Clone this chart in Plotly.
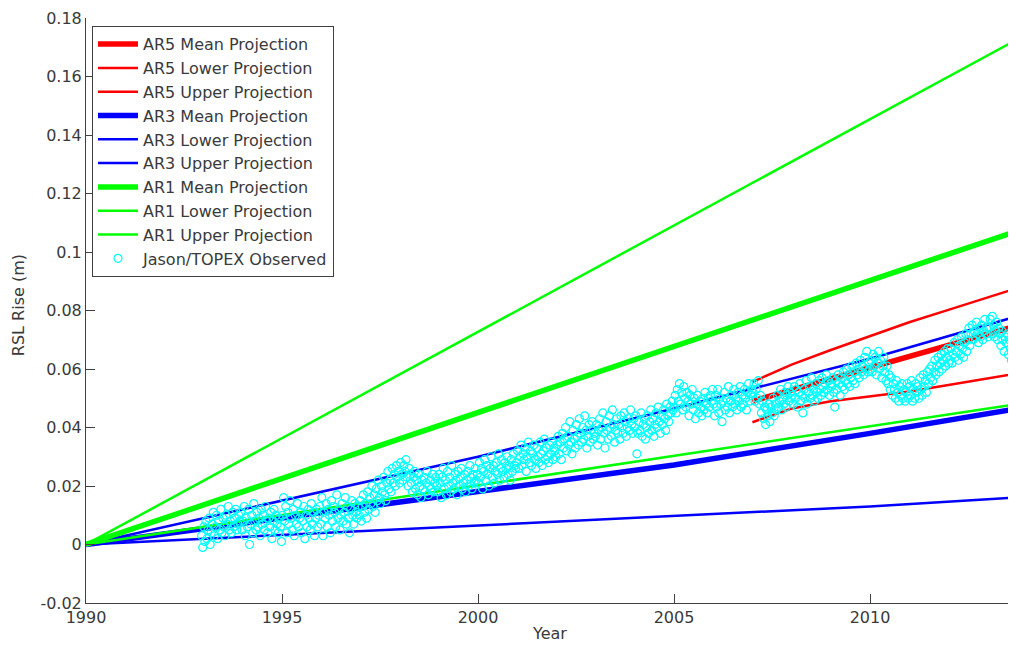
import plotly.graph_objects as go

# ---------------- data ----------------
# AR1 projections (linear from 1990)
ar1_years = [1990, 2014]
ar1_mean = [0.0, 0.1083]
ar1_lower = [0.0, 0.0485]
ar1_upper = [0.0, 0.1745]

# AR3 projections
ar3_years = [1990, 2000, 2005, 2010, 2014]
ar3_mean = [0.0, 0.0180, 0.0272, 0.0380, 0.0470]
ar3_lower = [0.0, 0.0065, 0.0095, 0.0130, 0.0163]
ar3_upper = [0.0, 0.0300, 0.0465, 0.0635, 0.0790]

# AR5 projections (start 2007)
ar5_years = [2007, 2008, 2009, 2010, 2011, 2012, 2013, 2014]
ar5_mean = [0.0490, 0.0528, 0.0563, 0.0600, 0.0638, 0.0677, 0.0717, 0.0757]
ar5_lower = [0.0418, 0.0465, 0.0490, 0.0507, 0.0523, 0.0545, 0.0566, 0.0590]
ar5_upper = [0.0556, 0.0615, 0.0665, 0.0712, 0.0760, 0.0802, 0.0845, 0.0887]

# Jason/TOPEX observed sea level (mm), one value per ~10-day cycle, starting late 1992
obs_start_year = 1992.95
obs_cycle_days = 9.9156
obs_mm = [
    # 1993
    3, -1, 6, 1, 8, 2, 5, 9, 0, 4, 7, 11, 3, 6, 10, 2, 8, 5, 12, 4, 9, 6, 3, 10, 7, 13, 5, 8, 4, 11, 6, 9, 12, 5, 7, 10, 8,
    # 1994
    11, 5, 8, 13, 3, 9, 6, 12, 0, 7, 10, 4, 14, 8, 5, 11, 6, 9, 3, 12, 7, 10, 5, 13, 8, 4, 9, 6, 11, 2, 8, 12, 5, 10, 7, 4, 9,
    # 1995
    6, 1, 10, 16, 8, 13, 4, 11, 7, 15, 9, 5, 12, 3, 10, 7, 14, 6, 9, 11, 4, 8, 13, 2, 10, 6, 12, 9, 5, 14, 7, 11, 3, 9, 12, 6, 10,
    # 1996
    13, 7, 16, 3, 11, 9, 14, 6, 12, 10, 4, 15, 8, 13, 11, 6, 17, 9, 12, 5, 10, 14, 8, 11, 16, 7, 13, 9, 4, 12, 15, 10, 7, 14, 11, 9, 13,
    # 1997
    10, 15, 8, 13, 17, 11, 14, 9, 18, 12, 16, 14, 20, 13, 17, 11, 19, 15, 22, 16, 14, 20, 18, 23, 17, 15, 21, 25, 19, 22, 18, 26, 21, 24, 20, 27, 23,
    # 1998
    25, 21, 28, 24, 22, 27, 25, 29, 23, 20, 26, 24, 21, 18, 23, 25, 19, 22, 17, 24, 20, 16, 22, 19, 23, 18, 21, 25, 17, 20, 22, 19, 24, 18, 21, 23, 20,
    # 1999
    18, 24, 21, 16, 23, 26, 19, 22, 17, 25, 20, 23, 18, 27, 21, 19, 24, 22, 17, 25, 20, 23, 26, 19, 21, 24, 18, 22, 25, 20, 27, 23, 19, 24, 21, 26, 22,
    # 2000
    24, 21, 28, 23, 26, 19, 25, 29, 22, 27, 24, 20, 26, 30, 23, 27, 21, 25, 28, 24, 31, 22, 26, 29, 25, 23, 28, 26, 30, 24, 27, 22, 29, 25, 31, 27, 26,
    # 2001
    28, 32, 26, 30, 34, 27, 31, 29, 33, 25, 30, 35, 28, 32, 27, 31, 34, 29, 26, 33, 30, 28, 35, 31, 27, 32, 36, 29, 33, 30, 28, 34, 31, 35, 29, 33, 32,
    # 2002
    30, 34, 37, 31, 35, 29, 38, 33, 36, 40, 32, 37, 34, 42, 35, 31, 39, 36, 33, 41, 37, 34, 43, 38, 35, 40, 36, 44, 39, 33, 37, 41, 35, 39, 42, 36, 38,
    # 2003
    37, 41, 34, 39, 43, 36, 40, 45, 38, 33, 42, 39, 36, 44, 40, 37, 46, 41, 35, 39, 43, 38, 41, 36, 44, 40, 38, 45, 42, 37, 40, 43, 39, 46, 41, 38, 43,
    # 2004
    40, 44, 31, 38, 42, 39, 45, 37, 41, 43, 36, 40, 44, 38, 42, 46, 39, 43, 37, 41, 45, 40, 47, 42, 38, 44, 41, 46, 43, 39, 48, 44, 42, 47, 45, 49, 46,
    # 2005
    47, 51, 45, 53, 49, 55, 48, 52, 46, 54, 50, 47, 52, 49, 44, 51, 48, 53, 46, 50, 43, 48, 51, 45, 49, 47, 44, 50, 46, 52, 48, 45, 50, 47, 51, 49, 53,
    # 2006
    48, 44, 51, 47, 53, 45, 50, 48, 42, 49, 52, 46, 50, 47, 54, 45, 49, 51, 47, 53, 48, 50, 46, 52, 49, 54, 47, 51, 48, 53, 50, 46, 52, 55, 49, 51, 53,
    # 2007
    52, 55, 49, 53, 50, 56, 48, 51, 45, 49, 43, 47, 41, 46, 44, 48, 42, 47, 45, 50, 44, 48, 46, 51, 47, 49, 53, 46, 50, 48, 52, 47, 51, 54, 49, 52, 50,
    # 2008
    51, 48, 54, 50, 53, 47, 52, 55, 49, 51, 45, 53, 50, 56, 48, 52, 54, 50, 57, 51, 53, 49, 55, 52, 50, 56, 53, 51, 57, 54, 52, 55, 58, 53, 56, 51, 55,
    # 2009
    54, 57, 52, 47, 56, 53, 58, 55, 51, 57, 54, 59, 53, 56, 60, 55, 58, 54, 57, 61, 56, 59, 55, 62, 58, 60, 57, 63, 59, 61, 58, 64, 60, 66, 59, 62, 60,
    # 2010
    63, 59, 65, 61, 64, 58, 62, 66, 60, 63, 57, 61, 64, 59, 56, 61, 55, 58, 53, 57, 51, 55, 53, 50, 56, 52, 49, 54, 51, 55, 50, 53, 49, 52, 55, 50, 54,
    # 2011
    51, 56, 49, 53, 50, 55, 52, 54, 50, 57, 53, 51, 58, 54, 56, 52, 59, 55, 60, 57, 61, 56, 59, 63, 58, 61, 64, 59, 62, 65, 60, 63, 66, 61, 64, 67, 62,
    # 2012
    63, 67, 62, 65, 69, 64, 66, 70, 63, 68, 65, 71, 67, 64, 69, 72, 66, 70, 74, 68, 72, 75, 70, 73, 71, 76, 72, 69, 74, 71, 75, 70, 73, 77, 72, 74, 71,
    # 2013
    74, 77, 72, 78, 75, 71, 73, 76, 70, 74, 72, 68, 73, 70, 66, 71, 69, 72, 65, 70, 67, 63, 69, 66, 71, 64,
]

y_tick_vals = [-0.02, 0, 0.02, 0.04, 0.06, 0.08, 0.1, 0.12, 0.14, 0.16, 0.18]
y_tick_text = ["-0.02", "0", "0.02", "0.04", "0.06", "0.08", "0.1", "0.12", "0.14", "0.16", "0.18"]
x_tick_vals = [1990, 1995, 2000, 2005, 2010]
x_tick_text = ["1990", "1995", "2000", "2005", "2010"]

x_range = [1990, 2013.52]
y_range = [-0.02, 0.18]

# ---------------- figure ----------------
obs_years = [obs_start_year + i * obs_cycle_days / 365.25 for i in range(len(obs_mm))]
obs_m = [v / 1000.0 for v in obs_mm]

RED, BLUE, GREEN, CYAN = "#ff0000", "#0000ff", "#00ff00", "#00ffff"
THICK, THIN = 5.5, 2.5

fig = go.Figure()

def add_line(x, y, name, color, width):
    fig.add_trace(go.Scatter(x=x, y=y, mode="lines", name=name,
                             line=dict(color=color, width=width)))

add_line(ar5_years, ar5_mean, "AR5 Mean Projection", RED, THICK)
add_line(ar5_years, ar5_lower, "AR5 Lower Projection", RED, THIN)
add_line(ar5_years, ar5_upper, "AR5 Upper Projection", RED, THIN)
add_line(ar3_years, ar3_mean, "AR3 Mean Projection", BLUE, THICK)
add_line(ar3_years, ar3_lower, "AR3 Lower Projection", BLUE, THIN)
add_line(ar3_years, ar3_upper, "AR3 Upper Projection", BLUE, THIN)
add_line(ar1_years, ar1_mean, "AR1 Mean Projection", GREEN, THICK)
add_line(ar1_years, ar1_lower, "AR1 Lower Projection", GREEN, THIN)
add_line(ar1_years, ar1_upper, "AR1 Upper Projection", GREEN, THIN)

fig.add_trace(go.Scatter(x=obs_years, y=obs_m, mode="markers", name="Jason/TOPEX Observed",
                         marker=dict(symbol="circle-open", size=8, color=CYAN,
                                     line=dict(color=CYAN, width=1.2))))

FONT = "DejaVu Sans"
TXT = "#3a3a3a"
AX = "#404040"

# the page body adds an 8px margin all round; the figure is sized so the page fits exactly
fig.update_layout(
    width=1000, height=634,
    margin=dict(l=78, r=0, t=10, b=39, autoexpand=False),
    paper_bgcolor="white", plot_bgcolor="white",
    font=dict(family=FONT, size=16, color=TXT),
    showlegend=True,
    legend=dict(x=0.0065, y=0.986, xanchor="left", yanchor="top",
                bgcolor="white", bordercolor=AX, borderwidth=1,
                font=dict(family=FONT, size=16, color=TXT),
                itemwidth=40, tracegroupgap=0),
    xaxis=dict(range=x_range, tickvals=x_tick_vals, ticktext=x_tick_text, automargin=False,
               showgrid=False, zeroline=False, showline=True, linecolor=AX, linewidth=1,
               ticks="inside", ticklen=9, tickcolor=AX, tickwidth=1,
               tickfont=dict(family=FONT, size=16, color=TXT)),
    yaxis=dict(range=y_range, tickvals=y_tick_vals, ticktext=y_tick_text, automargin=False,
               showgrid=False, zeroline=False, showline=True, linecolor=AX, linewidth=1,
               ticks="inside", ticklen=9, tickcolor=AX, tickwidth=1,
               tickfont=dict(family=FONT, size=16, color=TXT)),
    annotations=[
        dict(text="Year", xref="paper", yref="paper", x=0.503, y=-0.0513,
             xanchor="center", yanchor="middle", showarrow=False,
             font=dict(family=FONT, size=16, color=TXT)),
        dict(text="RSL Rise (m)", xref="paper", yref="paper", x=-0.0738, y=0.509,
             xanchor="center", yanchor="middle", textangle=-90, showarrow=False,
             font=dict(family=FONT, size=16, color=TXT)),
    ],
)

fig.write_html("out.html")
